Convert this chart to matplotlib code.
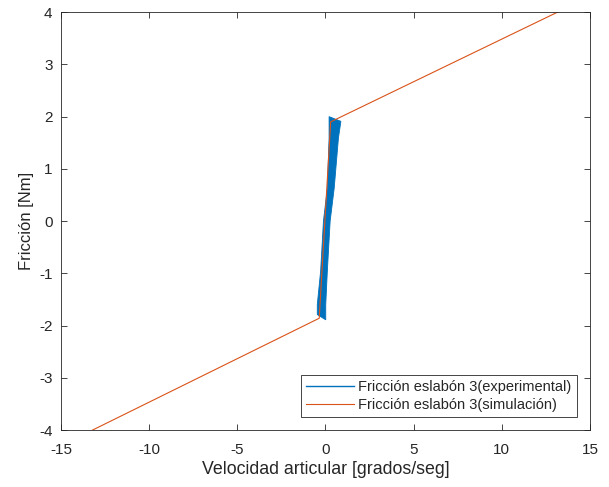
import numpy as np
import matplotlib.pyplot as plt

# experimental friction: thin wedge around zero velocity (outline of the dense band)
exp_vel = [-0.46, -0.46, -0.27, -0.11, 0.11, 0.21, 0.21,
           0.88, 0.74, 0.50, 0.27, 0.11, 0.02, 0.02]
exp_fric = [-1.79, -1.60, -0.96, 0.00, 0.63, 1.59, 2.00,
            1.91, 1.59, 0.63, 0.00, -0.96, -1.60, -1.89]

# simulated friction (Coulomb + viscous)
sim_vel = [-15.0, -0.35, 0.30, 15.0]
sim_fric = [-4.30, -1.86, 1.90, 4.30]

xticks = [-15, -10, -5, 0, 5, 10, 15]
yticks = [-4, -3, -2, -1, 0, 1, 2, 3, 4]

blue = '#0072BD'
orange = '#D95319'
dark = '#262626'

plt.rcParams['font.family'] = ['Liberation Sans', 'DejaVu Sans']
plt.rcParams['axes.unicode_minus'] = False

fig = plt.figure(figsize=(6.09, 4.87), dpi=100)
ax = fig.add_axes([0.100, 0.117, 0.8686, 0.858])

ax.fill(exp_vel, exp_fric, color=blue, lw=0.6, ec=blue)
ax.plot([], [], color=blue, lw=1.0, label='Fricción eslabón 3(experimental)')
ax.plot(sim_vel, sim_fric, color=orange, lw=0.8, label='Fricción eslabón 3(simulación)')

ax.set_xlim(-15, 15)
ax.set_ylim(-4, 4)
ax.set_xticks(xticks)
ax.set_yticks(yticks)
ax.tick_params(direction='in', top=True, right=True, length=4, width=0.6,
               colors=dark, labelsize=11)
ax.tick_params(axis='x', pad=9)
ax.tick_params(axis='y', pad=6)
for s in ax.spines.values():
    s.set_color(dark)
    s.set_linewidth(0.6)

ax.set_xlabel('Velocidad articular [grados/seg]', fontsize=12.8, color=dark, labelpad=3)
ax.set_ylabel('Fricción [Nm]', fontsize=12, color=dark, labelpad=4)

leg = ax.legend(loc='lower right', fontsize=10.5, handlelength=3.3,
                fancybox=False, framealpha=1, borderaxespad=0.9,
                borderpad=0.35, labelspacing=0.25, handletextpad=0.3)
leg.get_frame().set_edgecolor(dark)
leg.get_frame().set_linewidth(0.6)
for t in leg.get_texts():
    t.set_color(dark)

fig.savefig('out.png', dpi=100)
